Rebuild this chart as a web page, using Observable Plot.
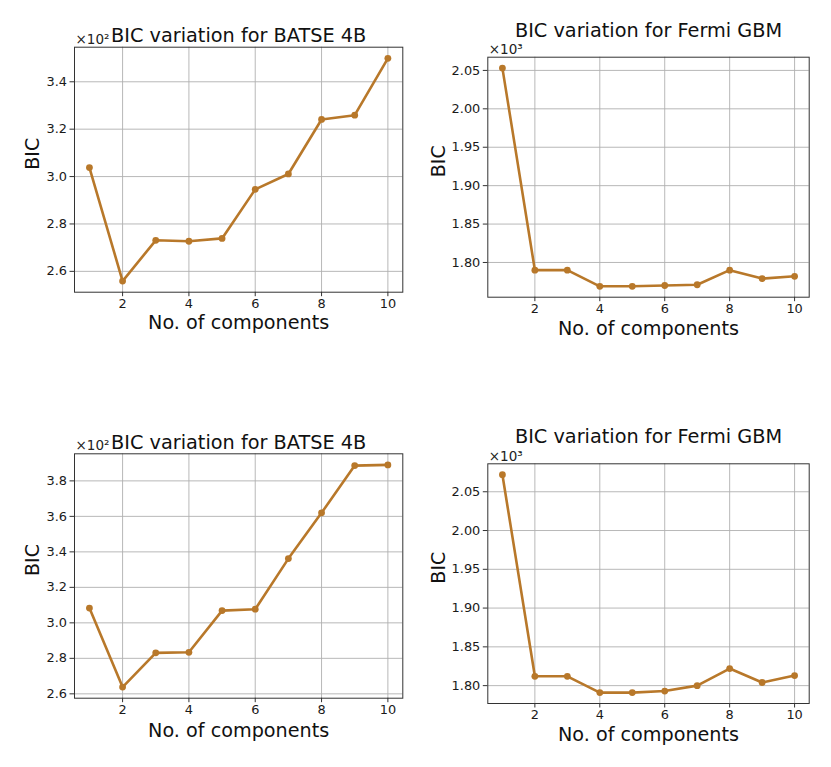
<!DOCTYPE html>
<html>
<head>
<meta charset="utf-8">
<script src="https://cdn.jsdelivr.net/npm/d3@7"></script>
<script src="https://cdn.jsdelivr.net/npm/@observablehq/plot@0.6"></script>
<style>
  html, body { margin: 0; padding: 0; background: #fff; }
  #page { position: relative; width: 831px; height: 767px; background: #fff; overflow: hidden; }
  #page > div { position: absolute; }
  svg { overflow: visible; font-family: "DejaVu Sans", sans-serif; }
  #page svg [aria-label*="axis"] text,
  #page svg g[aria-label*="axis"] { font-size: 12.9px !important; font-family: "DejaVu Sans", sans-serif !important; }
</style>
</head>
<body>
<div id="page"></div>
<script>
// ---- data ----
const components = [1, 2, 3, 4, 5, 6, 7, 8, 9, 10];
const xTicks = [2, 4, 6, 8, 10];

const batseTopBIC    = [303.8, 255.9, 273.1, 272.7, 273.9, 294.6, 301.1, 324.1, 325.9, 349.9];
const fermiTopBIC    = [2053, 1790, 1790, 1769, 1769, 1770, 1771, 1790, 1779, 1782];
const batseBottomBIC = [308.3, 263.8, 283.1, 283.4, 306.9, 307.7, 336.2, 362.0, 388.6, 389.0];
const fermiBottomBIC = [2072, 1812, 1812, 1791, 1791, 1793, 1800, 1822, 1804, 1813];

const batseTitle = "BIC variation for BATSE 4B";
const fermiTitle = "BIC variation for Fermi GBM";
const xLabel = "No. of components";
const yLabel = "BIC";

const batseTopTicks    = [2.6, 2.8, 3.0, 3.2, 3.4];
const fermiTicks       = [1.80, 1.85, 1.90, 1.95, 2.00, 2.05];
const batseBottomTicks = [2.6, 2.8, 3.0, 3.2, 3.4, 3.6, 3.8];

const color = "#b8782a";

function panel(cfg) {
  const W = 415, H = 360;
  const [fx0, fy0, fx1, fy1] = cfg.frame;
  const scale = Math.pow(10, cfg.exp);
  const rows = components.map((c, i) => ({c, v: cfg.values[i] / scale}));
  const [vmin, vmax] = d3.extent(rows, d => d.v);
  const pad = (vmax - vmin) * 0.05;
  const plot = Plot.plot({
    width: W, height: H,
    marginLeft: fx0 - cfg.left, marginTop: fy0 - cfg.top,
    marginRight: cfg.left + W - fx1, marginBottom: cfg.top + H - fy1,
    style: {fontSize: "12.9px", fontFamily: "DejaVu Sans", color: "#1a1a1a", background: "transparent"},
    x: {domain: [0.55, 10.45], label: null},
    y: {domain: [vmin - pad, vmax + pad], label: null},
    marks: [
      Plot.ruleX(xTicks, {stroke: "#b0b0b0", strokeWidth: 0.9}),
      Plot.ruleY(cfg.yTicks, {stroke: "#b0b0b0", strokeWidth: 0.9}),
      Plot.axisX({ticks: xTicks, tickSize: 4.5, tickPadding: 2, label: null, tickFormat: d3.format("d"), fontSize: 12.9, fill: "#1a1a1a", stroke: "#333"}),
      Plot.axisY({ticks: cfg.yTicks, tickSize: 4.5, tickPadding: 3, label: null, tickFormat: d3.format(cfg.yFmt), fontSize: 12.9, fill: "#1a1a1a", stroke: "#333"}),
      Plot.frame({stroke: "#333", strokeWidth: 1}),
      Plot.line(rows, {x: "c", y: "v", stroke: color, strokeWidth: 2.6}),
      Plot.dot(rows, {x: "c", y: "v", fill: color, r: 3.4}),
      Plot.text([cfg.title], {text: d => d, frameAnchor: "top", dy: cfg.titleBaseline - fy0, lineAnchor: "bottom", fontSize: 19.3, fill: "#111"}),
      Plot.text([cfg.offset], {text: d => d, frameAnchor: "top-left", dx: cfg.offsetDx, dy: cfg.offsetBaseline - fy0, lineAnchor: "bottom", textAnchor: "start", fontSize: 13.5, fill: "#222"}),
      Plot.text([yLabel], {text: d => d, frameAnchor: "left", dx: cfg.yLabelDx, rotate: -90, fontSize: 19, fill: "#111"}),
      Plot.text([xLabel], {text: d => d, frameAnchor: "bottom", dy: cfg.xLabelDy, lineAnchor: "middle", fontSize: 19.2, fill: "#111"})
    ]
  });
  const holder = document.createElement("div");
  holder.style.left = cfg.left + "px";
  holder.style.top = cfg.top + "px";
  holder.appendChild(plot);
  document.getElementById("page").appendChild(holder);
}

panel({left: 0, top: 0, frame: [74, 46.7, 402.3, 291.7], values: batseTopBIC, exp: 2,
  title: batseTitle, titleBaseline: 41.7, offset: "×10²", offsetDx: 1, offsetBaseline: 43,
  yTicks: batseTopTicks, yFmt: ".1f", yLabelDx: -41.7, xLabelDy: 31});
panel({left: 415, top: 0, frame: [487.3, 56.7, 808.7, 296.7], values: fermiTopBIC, exp: 3,
  title: fermiTitle, titleBaseline: 36.7, offset: "×10³", offsetDx: 1, offsetBaseline: 53,
  yTicks: fermiTicks, yFmt: ".2f", yLabelDx: -49, xLabelDy: 31.6});
panel({left: 0, top: 405, frame: [74, 453.3, 402.3, 697.7], values: batseBottomBIC, exp: 2,
  title: batseTitle, titleBaseline: 448.3, offset: "×10²", offsetDx: 1, offsetBaseline: 449,
  yTicks: batseBottomTicks, yFmt: ".1f", yLabelDx: -41.5, xLabelDy: 32.3});
panel({left: 415, top: 405, frame: [487.3, 463.3, 808.7, 703], values: fermiBottomBIC, exp: 3,
  title: fermiTitle, titleBaseline: 442.7, offset: "×10³", offsetDx: 1, offsetBaseline: 460,
  yTicks: fermiTicks, yFmt: ".2f", yLabelDx: -48.8, xLabelDy: 31.3});
</script>
</body>
</html>
